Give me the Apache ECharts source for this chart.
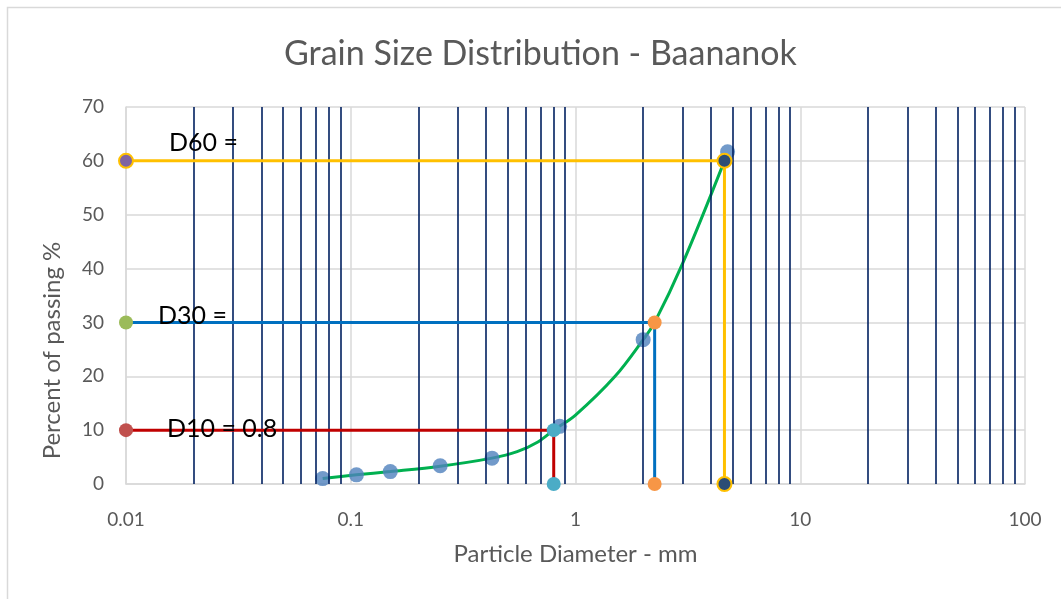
<!DOCTYPE html>
<html>
<head>
<meta charset="utf-8">
<script src="https://cdn.jsdelivr.net/npm/echarts@6/dist/echarts.min.js"></script>
<style>
html,body{margin:0;padding:0;background:#fff;}
#chart{width:1061px;height:599px;}
</style>
</head>
<body>
<div id="chart"></div>
<script>
// Sieve data (particle diameter mm, percent passing)
var sieveSizes = [0.075, 0.106, 0.15, 0.25, 0.425, 0.85, 2.0, 4.75];
var percentPassing = [1.0, 1.7, 2.3, 3.4, 4.8, 10.7, 26.8, 61.7];

// Fitted gradation curve
var curveX = [0.075, 0.106, 0.15, 0.25, 0.425, 0.55, 0.68, 0.8, 1.0, 1.5, 2.0, 2.25, 3.0, 4.6];
var curveY = [1.0, 1.7, 2.3, 3.3, 4.8, 6.0, 7.8, 10, 12.8, 20, 26.8, 30, 41, 60];

// D-values
var d10 = 0.8, d30 = 2.25, d60 = 4.6;
var xMin = 0.01;
var dLabels = ['D10 = 0.8', 'D30 =', 'D60 ='];

// Minor vertical lines (2..9 per decade)
var minorLines = [0.02,0.03,0.04,0.05,0.06,0.07,0.08,0.09,
                  0.2,0.3,0.4,0.5,0.6,0.7,0.8,0.9,
                  2,3,4,5,6,7,8,9,
                  20,30,40,50,60,70,80,90];

var FONT = 'Lato, "Liberation Sans", sans-serif';

function pairs(xs, ys){ return xs.map(function(x,i){ return [x, ys[i]]; }); }

function dSeries(name, d, p, lineColor, c0, c1, c2, border, label, labelPos){
  var it = function(c){ return border ? {color:c, borderColor:border, borderWidth:2} : {color:c, borderWidth:0}; };
  return {
    name: name, type: 'line', z: 5,
    symbol: 'circle', symbolSize: 14,
    lineStyle: {color: lineColor, width: 3},
    data: [
      {value:[xMin, p], itemStyle: it(c0),
       label:{show:true, formatter: label, position: labelPos, align:'left', verticalAlign:'middle',
              color:'#000', fontSize: 25, fontFamily: FONT}},
      {value:[d, p], itemStyle: it(c1)},
      {value:[d, 0], itemStyle: it(c2)}
    ]
  };
}

var chart = echarts.init(document.getElementById('chart'));
chart.setOption({
  animation: false,
  backgroundColor: '#fff',
  title: {
    text: 'Grain Size Distribution - Baananok',
    left: 279, top: 32,
    textStyle: {color:'#595959', fontSize: 34, fontWeight: 'normal', fontFamily: FONT}
  },
  graphic: [{
    type:'rect', shape:{x:7.5, y:7.5, width:1200, height:800},
    style:{fill:'none', stroke:'#D9D9D9', lineWidth:1.5}, silent:true, z:-10
  }],
  grid: {left:126, right:36, top:107, bottom:115},
  xAxis: {
    type: 'log', logBase: 10, min: 0.01, max: 100,
    name: 'Particle Diameter - mm', nameLocation: 'middle', nameGap: 58,
    nameTextStyle: {color:'#595959', fontSize: 24, fontFamily: FONT},
    axisLine: {show:true, lineStyle:{color:'#D9D9D9', width:1.5}},
    axisTick: {show:false},
    axisLabel: {color:'#595959', fontSize: 19, fontFamily: FONT, margin: 26,
      formatter: function(v){ return String(+v.toPrecision(6)); }},
    splitLine: {show:true, lineStyle:{color:'#D9D9D9', width:1.5}},
    minorTick: {show:false}, minorSplitLine: {show:false}
  },
  yAxis: {
    type: 'value', min: 0, max: 70, interval: 10,
    name: 'Percent of passing %', nameLocation: 'middle', nameGap: 62,
    nameTextStyle: {color:'#595959', fontSize: 24, fontFamily: FONT, padding:[0, 110, 0, 0]},
    axisLine: {show:true, lineStyle:{color:'#D9D9D9', width:1.5}},
    axisTick: {show:false},
    axisLabel: {color:'#595959', fontSize: 19, fontFamily: FONT, margin: 22},
    splitLine: {show:true, lineStyle:{color:'#D9D9D9', width:1.5}}
  },
  series: [
    {
      name: 'minor', type: 'line', data: [], z: 1, silent: true,
      markLine: {
        silent: true, symbol: ['none','none'], animation:false,
        label: {show:false},
        lineStyle: {color:'#002060', width:1.6, type:'solid'},
        emphasis: {disabled:true},
        data: minorLines.map(function(v){ return {xAxis: v}; })
      }
    },
    {
      name: 'curve', type: 'line', z: 3, smooth: 0.35,
      showSymbol: false, symbol: 'none',
      lineStyle: {color:'#00B050', width:3},
      data: pairs(curveX, curveY)
    },
    {
      name: 'sieve', type: 'scatter', z: 4,
      symbol: 'circle', symbolSize: 15,
      itemStyle: {color:'#4F81BD'},
      data: pairs(sieveSizes, percentPassing)
    },
    dSeries('D60', d60, 60, '#FFC000', '#8064A2', '#2C4D75', '#2C4D75', '#FFC000', dLabels[2], [51,-10]),
    dSeries('D30', d30, 30, '#0070C0', '#9BBB59', '#F79646', '#F79646', null, dLabels[1], [39,1]),
    dSeries('D10', d10, 10, '#C00000', '#C0504D', '#4BACC6', '#4BACC6', null, dLabels[0], [48,6])
  ]
});
</script>
</body>
</html>
